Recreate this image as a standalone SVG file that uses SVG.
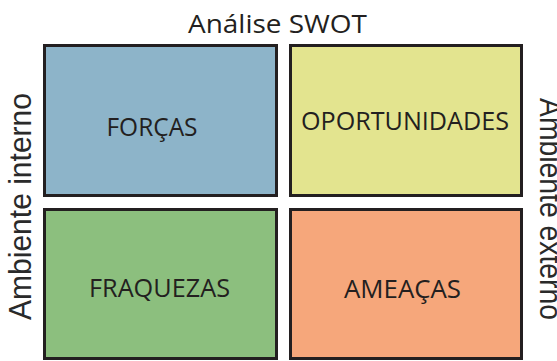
<svg xmlns="http://www.w3.org/2000/svg" width="557" height="361" viewBox="0 0 557 361">
<style>
.box{stroke:#231f20;stroke-width:3}
.lbl{font-family:"Open Sans","Noto Sans",sans-serif;font-size:26px;fill:#231f20;text-anchor:middle}
.side{font-family:"Liberation Sans",Arial,sans-serif;font-size:31px;fill:#2a2a2a;text-anchor:middle}
</style>
<rect width="557" height="361" fill="#ffffff"/>
<text id="title" class="lbl" x="277.5" y="33" font-size="26" textLength="179" lengthAdjust="spacingAndGlyphs">Análise SWOT</text>
<g id="forcas">
<rect class="box" x="44.5" y="45.5" width="232" height="150" fill="#8db4c9"/>
<text class="lbl" x="152" y="136" textLength="91" lengthAdjust="spacingAndGlyphs">FORÇAS</text>
</g>
<g id="oportunidades">
<rect class="box" x="290.5" y="45.5" width="231" height="150" fill="#e3e48f"/>
<text class="lbl" x="405" y="130" textLength="208" lengthAdjust="spacingAndGlyphs">OPORTUNIDADES</text>
</g>
<g id="fraquezas">
<rect class="box" x="44.5" y="209.5" width="232" height="149" fill="#8cbf7e"/>
<text class="lbl" x="159.5" y="297" textLength="141" lengthAdjust="spacingAndGlyphs">FRAQUEZAS</text>
</g>
<g id="ameacas">
<rect class="box" x="290.5" y="209.5" width="231" height="149" fill="#f6a77b"/>
<text class="lbl" x="402.5" y="298" textLength="117" lengthAdjust="spacingAndGlyphs">AMEAÇAS</text>
</g>
<g id="connectors"></g>
<text id="interno" class="side" transform="translate(31,206.5) rotate(-90)" textLength="227" lengthAdjust="spacingAndGlyphs">Ambiente interno</text>
<text id="externo" class="side" transform="translate(540,209) rotate(90)" textLength="222" lengthAdjust="spacingAndGlyphs">Ambiente externo</text>
</svg>
